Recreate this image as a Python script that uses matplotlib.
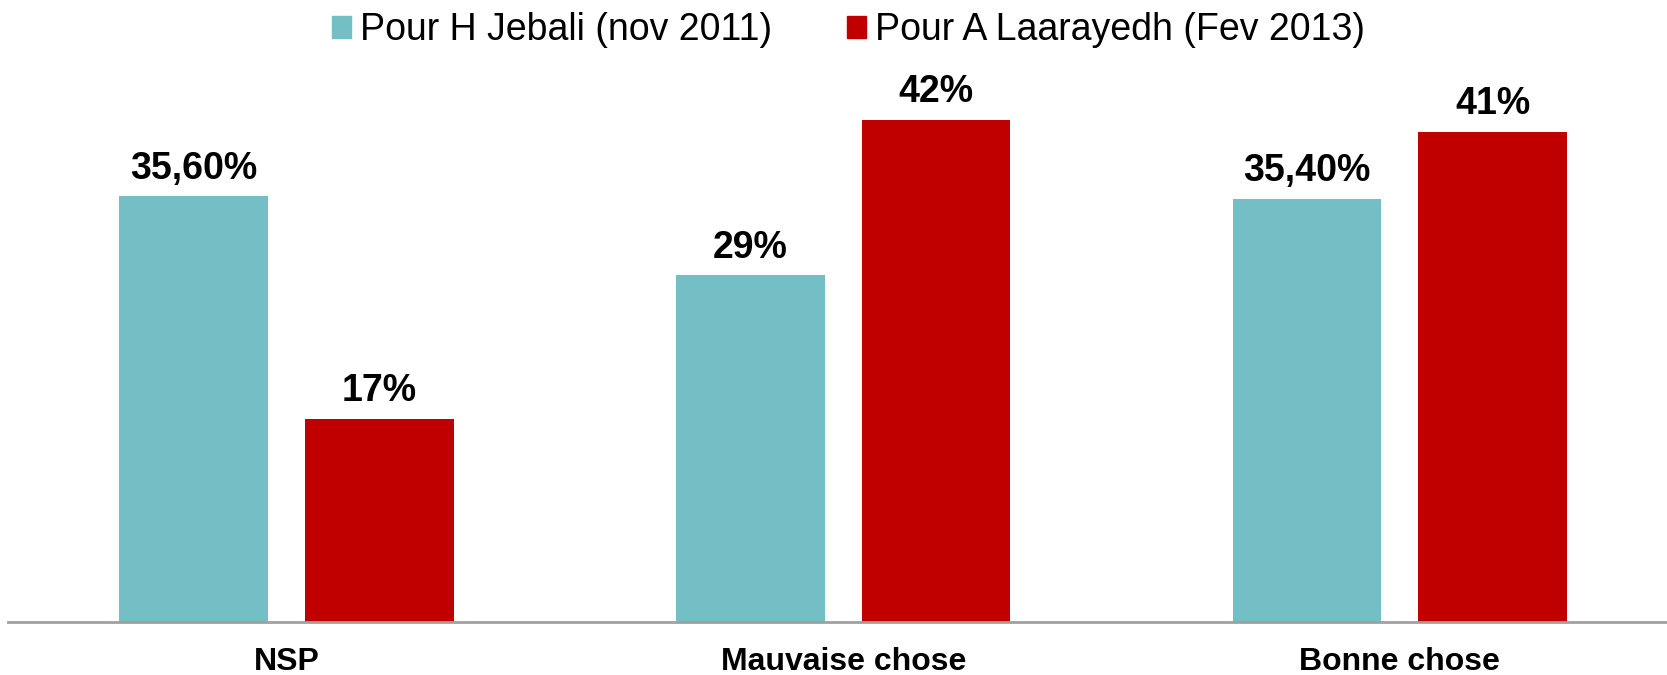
import numpy as np
import matplotlib.pyplot as plt
from matplotlib.patches import Patch

categories = ['NSP', 'Mauvaise chose', 'Bonne chose']
jebali = [35.6, 29, 35.4]
laarayedh = [17, 42, 41]
jebali_labels = ['35,60%', '29%', '35,40%']
laarayedh_labels = ['17%', '42%', '41%']
series_names = ['Pour H Jebali (nov 2011)', 'Pour A Laarayedh (Fev 2013)']

teal = '#73BFC5'
red = '#C00000'

plt.rcParams['font.family'] = ['Liberation Sans', 'DejaVu Sans']

fig = plt.figure(figsize=(16.67, 6.75), dpi=100)
ax = fig.add_axes([0.005, 0.0785, 0.995, 0.8715])

x = np.arange(len(categories))
w = 0.267
off = 0.167
b1 = ax.bar(x - off, jebali, w, color=teal)
b2 = ax.bar(x + off, laarayedh, w, color=red)

# value labels above the bars
for bars, labels in ((b1, jebali_labels), (b2, laarayedh_labels)):
    for rect, lab in zip(bars, labels):
        ax.annotate(lab, (rect.get_x() + rect.get_width() / 2, rect.get_height()),
                    xytext=(0, 7), textcoords='offset points', ha='center', va='bottom',
                    fontsize=27, fontweight='bold')

ax.set_xlim(-0.5, 2.48)
ax.set_ylim(0, 49.2)
ax.set_xticks(x)
ax.set_xticklabels(categories, fontsize=23, fontweight='bold')
ax.tick_params(axis='x', length=0, pad=18)
ax.set_yticks([])
for s in ['top', 'right', 'left']:
    ax.spines[s].set_visible(False)
ax.spines['bottom'].set_color('#A0A0A0')
ax.spines['bottom'].set_linewidth(2)

handles = [Patch(color=teal), Patch(color=red)]
fig.legend(handles, series_names, loc='upper center', bbox_to_anchor=(0.509, 1.032), ncol=2,
           frameon=False, fontsize=27, handlelength=0.5, handleheight=0.5,
           handletextpad=0.25, columnspacing=2.0)

fig.savefig('out.png')
